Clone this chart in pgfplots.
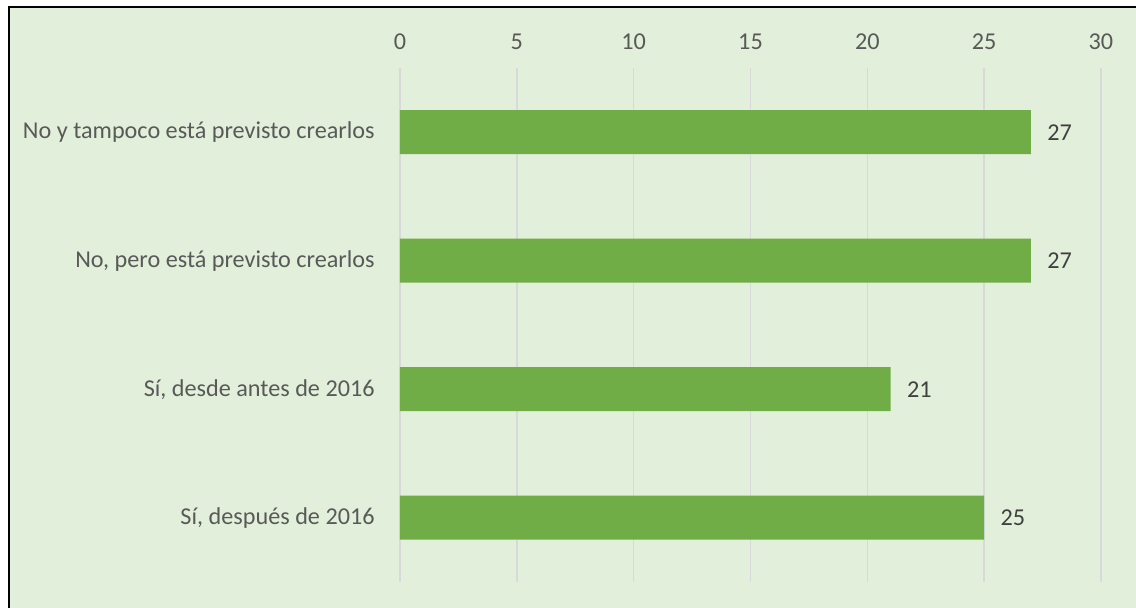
\documentclass[border=0pt]{standalone}
\usepackage{fontspec}
\setmainfont{Carlito}
\usepackage{pgfplots}
\pgfplotsset{compat=1.18}
\definecolor{bgc}{HTML}{E2EFDA}
\definecolor{barc}{HTML}{70AD47}
\definecolor{txtc}{HTML}{595959}
\definecolor{lblc}{HTML}{404040}
\definecolor{gridc}{HTML}{D9D9D9}
\begin{document}
\begin{tikzpicture}
\useasboundingbox (0,0) rectangle (568pt,304pt);
\fill[white] (0,0) rectangle (568pt,304pt);
\fill[bgc] (4pt,0) rectangle (568pt,300.5pt);
\draw[black, line width=1pt] (4.25pt,0) -- (4.25pt,300.6pt) -- (568pt,300.6pt);
\begin{axis}[
  at={(200pt,13pt)}, anchor=south west,
  scale only axis, width=350.5pt, height=257pt,
  xbar, bar width=22pt,
  xmin=0, xmax=30, ymin=-0.5, ymax=3.5,
  xtick={0,5,10,15,20,25,30},
  xticklabel pos=top,
  ytick={0,1,2,3},
  yticklabels={{Sí, después de 2016},{Sí, desde antes de 2016},{No, pero está previsto crearlos},{No y tampoco está previsto crearlos}},
  axis line style={draw=none},
  major tick length=0pt,
  xmajorgrids, grid style={gridc, line width=0.75pt},
  /pgf/number format/assume math mode=true,
  tick label style={font=\fontsize{12.1}{14}\selectfont, text=txtc},
  xticklabel style={anchor=base, inner sep=0pt, yshift=9pt},
  yticklabel style={anchor=east, inner sep=0pt, xshift=-12.5pt},
  nodes near coords,
  every node near coord/.append style={font=\fontsize{12.1}{14}\selectfont, text=lblc, anchor=west, inner sep=0pt, xshift=8pt},
]
\addplot[fill=barc, draw=none] coordinates {(25,0) (21,1) (27,2) (27,3)};
\end{axis}
\end{tikzpicture}
\end{document}
